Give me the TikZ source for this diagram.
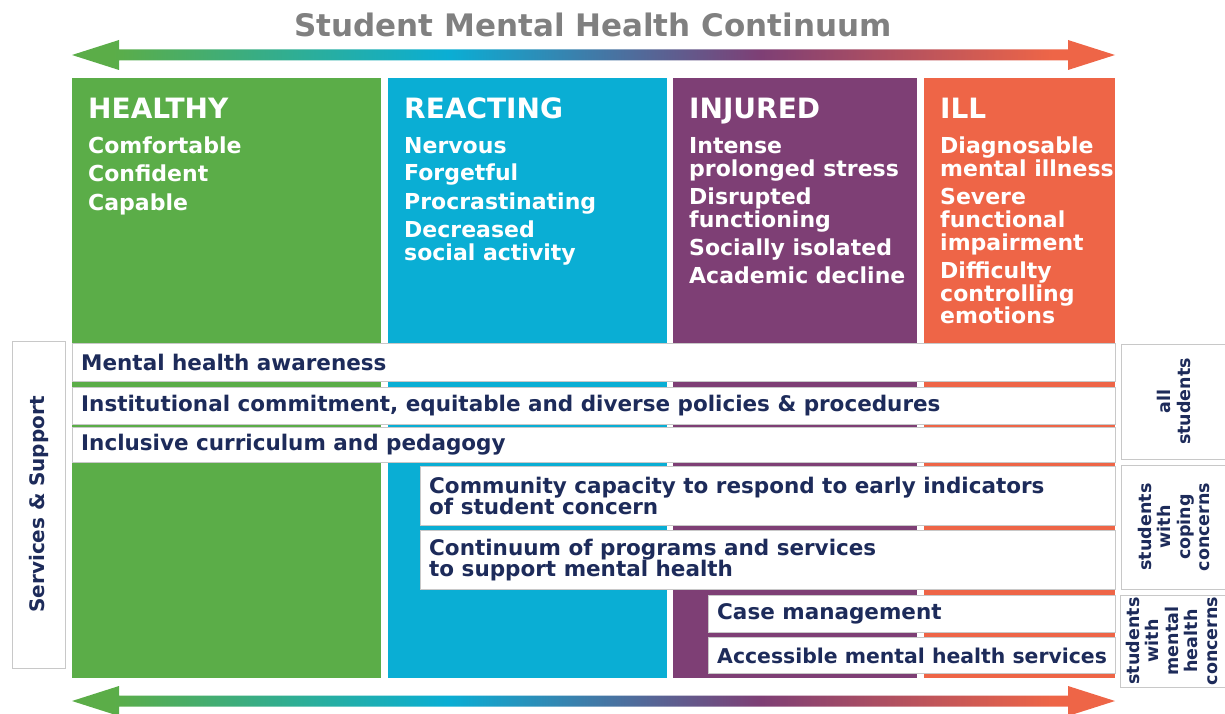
\documentclass[tikz,border=0pt]{standalone}
\usepackage{fontspec}
\setmainfont{DejaVu Sans}
\definecolor{cgreen}{RGB}{91,173,72}
\definecolor{ccyan}{RGB}{10,174,212}
\definecolor{cpurple}{RGB}{126,63,117}
\definecolor{corange}{RGB}{238,101,71}
\definecolor{navy}{RGB}{29,43,90}
\definecolor{titlegray}{RGB}{128,128,128}
\definecolor{edgegray}{RGB}{200,200,200}
\pgfdeclarehorizontalshading{continuum}{100bp}{color(0bp)=(cgreen); color(27bp)=(cgreen); color(43bp)=(ccyan); color(58bp)=(cpurple); color(72bp)=(corange); color(100bp)=(corange)}
\tikzset{
  colhead/.style={font=\bfseries\fontsize{28}{28}\selectfont, text=white, anchor=base west, inner sep=0pt},
  colitem/.style={font=\bfseries\fontsize{22}{23}\selectfont, text=white, anchor=base west, inner sep=0pt},
  rowbox/.style={draw=edgegray, line width=0.8pt, fill=white, anchor=north west, inner sep=0pt},
  rowtext/.style={font=\bfseries\fontsize{21.5}{21}\selectfont, text=navy, anchor=west, align=left, inner sep=0pt},
  sidebox/.style={draw=edgegray, line width=0.8pt, fill=white, rotate=90, text=navy, inner sep=0pt},
  sidetext/.style={rotate=90, text=navy, align=center, text width=110pt, inner sep=0pt,
    font=\bfseries\fontsize{17.5}{19.5}\selectfont}
}
\begin{document}
\begin{tikzpicture}[x=1pt,y=-1pt]
\useasboundingbox (0,0) rectangle (1225,714);
% title and the two continuum arrows
\node[font=\bfseries\fontsize{31}{31}\selectfont, text=titlegray, anchor=base, inner sep=0pt] (title) at (593,37) {Student Mental Health Continuum};
\shade[shading=continuum] (72,55) -- (119,40) -- (119,49.5) -- (1068,49.5) -- (1068,40) -- (1115,55)
  -- (1068,70) -- (1068,60.5) -- (119,60.5) -- (119,70) -- cycle;
\shade[shading=continuum] (72,701) -- (119,686) -- (119,695.5) -- (1068,695.5) -- (1068,686) -- (1115,701)
  -- (1068,716) -- (1068,706.5) -- (119,706.5) -- (119,716) -- cycle;
% columns
\fill[cgreen] (72,78) rectangle (381,678);
\fill[ccyan] (388,78) rectangle (667,678);
\fill[cpurple] (673,78) rectangle (917,678);
\fill[corange] (924,78) rectangle (1115,678);
\node[colhead] (healthy) at (88,118.5) {HEALTHY};
\node[colhead] (reacting) at (404,118.5) {REACTING};
\node[colhead] (injured) at (689,118.5) {INJURED};
\node[colhead] (ill) at (940,118.5) {ILL};
\foreach \txt/\yy [count=\i] in {Comfortable/154, Confident/182, Capable/210}
  \node[colitem] (healthy\i) at (88,\yy) {\txt};
\foreach \txt/\yy [count=\i] in {Nervous/153.3, Forgetful/181, Procrastinating/209, Decreased/237, social activity/260}
  \node[colitem] (reacting\i) at (404,\yy) {\txt};
\foreach \txt/\yy [count=\i] in {Intense/153.3, prolonged stress/176, Disrupted/204.3, functioning/227.3,
    Socially isolated/255.7, Academic decline/283.3}
  \node[colitem] (injured\i) at (689,\yy) {\txt};
\foreach \txt/\yy [count=\i] in {Diagnosable/153.3, mental illness/176, Severe/204.3, functional/227.3,
    impairment/250, Difficulty/278.3, controlling/301, emotions/323.3}
  \node[colitem] (ill\i) at (940,\yy) {\txt};
% services rows
\node[rowbox, minimum width=1043pt, minimum height=38pt] (awareness) at (72,343) {};
\node[rowbox, minimum width=1043pt, minimum height=37pt] (policies) at (72,387) {};
\node[rowbox, minimum width=1043pt, minimum height=35pt] (curriculum) at (72,427) {};
\node[rowbox, minimum width=695pt, minimum height=59pt] (capacity) at (420,466) {};
\node[rowbox, minimum width=695pt, minimum height=59pt] (programs) at (420,530) {};
\node[rowbox, minimum width=407pt, minimum height=37pt] (casemgmt) at (708,595) {};
\node[rowbox, minimum width=407pt, minimum height=36pt] (access) at (708,637) {};
\node[rowtext] (awareness-t) at ([xshift=9pt]awareness.west) {Mental health awareness};
\node[rowtext] (policies-t) at ([xshift=9pt]policies.west) {Institutional commitment, equitable and diverse policies \& procedures};
\node[rowtext] (curriculum-t) at ([xshift=9pt]curriculum.west) {Inclusive curriculum and pedagogy};
\node[rowtext] (capacity-t) at ([xshift=9pt]capacity.west) {Community capacity to respond to early indicators\\of student concern};
\node[rowtext] (programs-t) at ([xshift=9pt]programs.west) {Continuum of programs and services\\to support mental health};
\node[rowtext] (casemgmt-t) at ([xshift=9pt]casemgmt.west) {Case management};
\node[rowtext, font=\bfseries\fontsize{20.4}{21}\selectfont] (access-t) at ([xshift=9pt]access.west) {Accessible mental health services};
% side labels
\node[sidebox, minimum width=327pt, minimum height=53pt] (services) at (38.5,504.5) {};
\node[sidetext, text width=300pt, font=\bfseries\fontsize{20}{20}\selectfont] (services-t) at (services.center) {Services \& Support};
\node[sidebox, minimum width=115pt, minimum height=106pt] (allstudents) at (1174,401.5) {};
\node[sidebox, minimum width=124pt, minimum height=106pt] (coping) at (1174,527) {};
\node[sidebox, minimum width=92pt, minimum height=107pt] (concerns) at (1173.5,641) {};
\node[sidetext] (allstudents-t) at (allstudents.center) {all\\students};
\node[sidetext] (coping-t) at (coping.center) {students\\with\\coping\\concerns};
\node[sidetext, text width=90pt] (concerns-t) at ([xshift=-2pt]concerns.center) {students\\with\\mental\\health\\concerns};
\end{tikzpicture}
\end{document}
